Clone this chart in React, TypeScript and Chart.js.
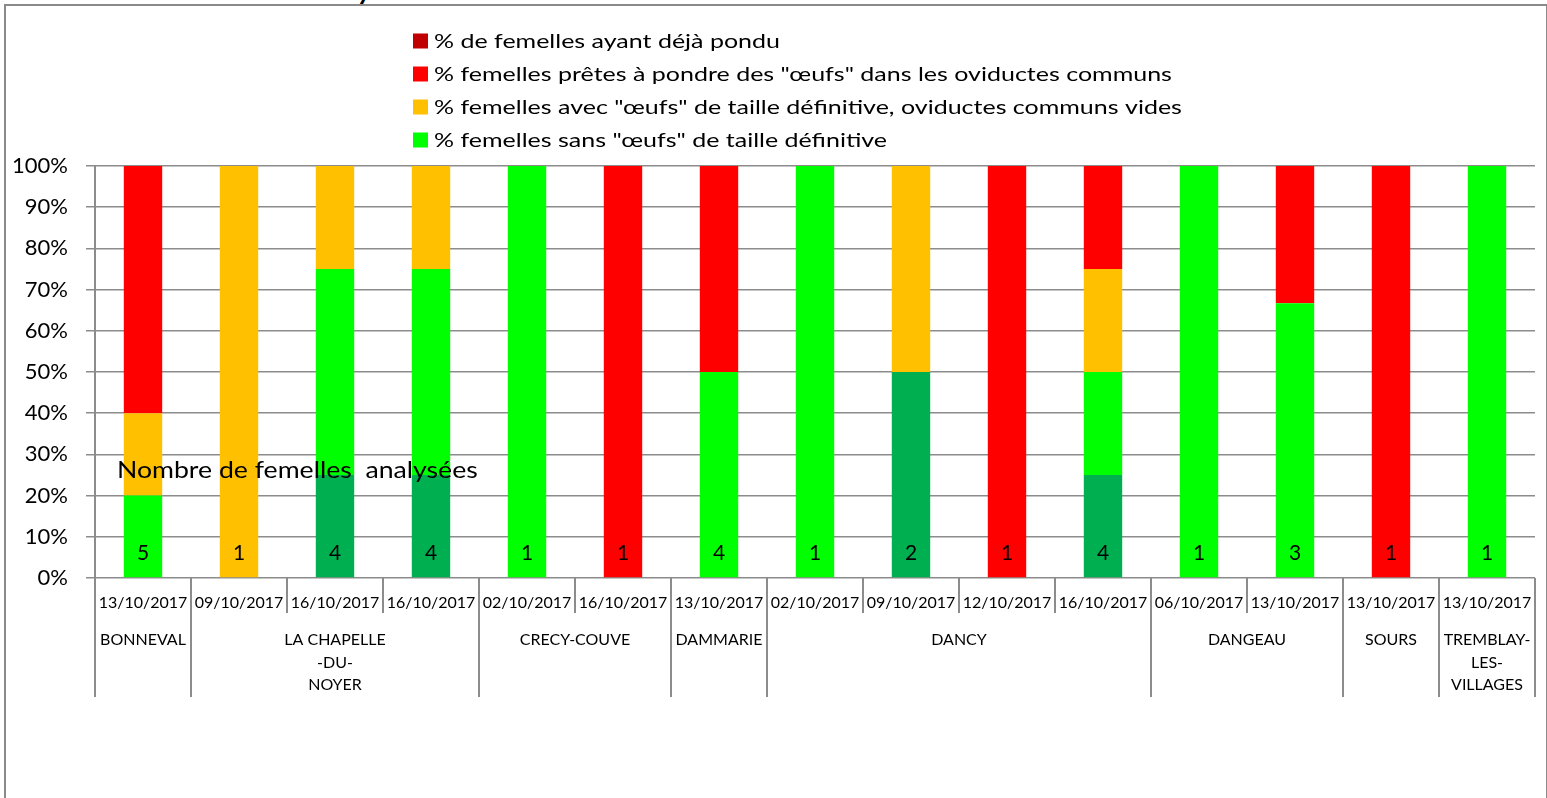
import { useEffect, useRef } from 'react';
import { Chart, registerables } from 'chart.js';
Chart.register(...registerables);

const FONT = "Lato, 'Open Sans', sans-serif";

const dates = [
  '13/10/2017', '09/10/2017', '16/10/2017', '16/10/2017', '02/10/2017', '16/10/2017', '13/10/2017',
  '02/10/2017', '09/10/2017', '12/10/2017', '16/10/2017', '06/10/2017', '13/10/2017', '13/10/2017', '13/10/2017',
];
const groupNames: string[][] = [
  ['BONNEVAL'], ['LA CHAPELLE', '-DU-', 'NOYER'], ['CRECY-COUVE'], ['DAMMARIE'],
  ['DANCY'], ['DANGEAU'], ['SOURS'], ['TREMBLAY-', 'LES-', 'VILLAGES'],
];
const groupSizes = [1, 3, 2, 1, 4, 2, 1, 1];

const darkGreen = [0, 0, 25, 25, 0, 0, 0, 0, 50, 0, 25, 0, 0, 0, 0];
const green = [20, 0, 50, 50, 100, 0, 50, 100, 0, 0, 25, 100, 66.7, 0, 100];
const orange = [20, 100, 25, 25, 0, 0, 0, 0, 50, 0, 25, 0, 0, 0, 0];
const red = [60, 0, 0, 0, 0, 100, 50, 0, 0, 100, 25, 0, 33.3, 100, 0];
const darkRed = [0, 0, 0, 0, 0, 0, 0, 0, 0, 0, 0, 0, 0, 0, 0];
const counts = [5, 1, 4, 4, 1, 1, 4, 1, 2, 1, 4, 1, 3, 1, 1];

const legendLabels = [
  '% de femelles ayant déjà pondu',
  '% femelles prêtes à pondre des "œufs" dans les oviductes communs',
  '% femelles avec "œufs" de taille définitive, oviductes communs vides',
  '% femelles sans "œufs" de taille définitive',
];
const annotationText = 'Nombre de femelles  analysées';

const GRID = '#8c8c8c';

function stretchedText(ctx: CanvasRenderingContext2D, text: string, x: number, y: number, sx: number) {
  ctx.save();
  ctx.translate(x, y);
  ctx.scale(sx, 1);
  ctx.fillText(text, 0, 0);
  ctx.restore();
}

const decorPlugin = {
  id: 'decor',
  afterDraw(chart: any) {
    const ctx = chart.ctx as CanvasRenderingContext2D;
    const xs = chart.scales.x;
    const ys = chart.scales.y;
    const area = chart.chartArea;
    const n = dates.length;
    const catW = (area.right - area.left) / n;
    const bottom = area.bottom;
    ctx.save();
    const groupBounds = new Set<number>();
    let acc = 0;
    groupBounds.add(0);
    groupSizes.forEach((s) => { acc += s; groupBounds.add(acc); });
    ctx.strokeStyle = GRID;
    ctx.lineWidth = 2;
    for (let i = 0; i <= n; i++) {
      const x = Math.round(xs.getPixelForValue(0) - catW / 2 + i * catW);
      const len = groupBounds.has(i) ? 119 : 35;
      ctx.beginPath();
      ctx.moveTo(x, bottom);
      ctx.lineTo(x, bottom + len);
      ctx.stroke();
    }
    ctx.fillStyle = '#000';
    ctx.font = `16px ${FONT}`;
    ctx.textAlign = 'center';
    ctx.textBaseline = 'middle';
    let start = 0;
    groupNames.forEach((lines, g) => {
      const end = start + groupSizes[g];
      const cx = (xs.getPixelForValue(start) + xs.getPixelForValue(end - 1)) / 2;
      lines.forEach((t, k) => ctx.fillText(t, cx, bottom + 62 + k * 22.5));
      start = end;
    });
    ctx.font = `21px ${FONT}`;
    counts.forEach((c, i) => {
      ctx.fillText(String(c), xs.getPixelForValue(i), ys.getPixelForValue(6));
    });
    ctx.font = `24px ${FONT}`;
    ctx.textAlign = 'left';
    stretchedText(ctx, annotationText, area.left + 22, ys.getPixelForValue(26.2), 1.11);
    const ds = chart.data.datasets;
    const legendDs = [ds[4], ds[3], ds[2], ds[1]];
    ctx.font = `20px ${FONT}`;
    legendDs.forEach((d: any, k: number) => {
      const cy = 41 + k * 33;
      ctx.fillStyle = d.backgroundColor;
      ctx.fillRect(413, cy - 7.5, 15, 15);
      ctx.fillStyle = '#000';
      stretchedText(ctx, d.label, 434, cy + 1, 1.25);
    });
    ctx.restore();
  },
};

export default function App() {
  const ref = useRef<HTMLCanvasElement>(null);
  useEffect(() => {
    const chart = new Chart(ref.current!, {
      type: 'bar',
      data: {
        labels: dates,
        datasets: [
          { label: '', data: darkGreen, backgroundColor: '#00B050' },
          { label: legendLabels[3], data: green, backgroundColor: '#00FF00' },
          { label: legendLabels[2], data: orange, backgroundColor: '#FFC000' },
          { label: legendLabels[1], data: red, backgroundColor: '#FF0000' },
          { label: legendLabels[0], data: darkRed, backgroundColor: '#C00000' },
        ],
      },
      options: {
        animation: false,
        responsive: false,
        layout: { padding: { top: 166, right: 12, left: 0, bottom: 0 } },
        datasets: { bar: { categoryPercentage: 1, barPercentage: 0.4, borderWidth: 0 } },
        plugins: { legend: { display: false }, tooltip: { enabled: false } },
        scales: {
          x: {
            stacked: true,
            grid: { display: false, drawTicks: false, tickLength: 0 },
            border: { display: false },
            ticks: { autoSkip: false, maxRotation: 0, minRotation: 0, padding: 15, color: '#000', font: { family: FONT, size: 16 } },
            afterFit: (s: any) => { s.height = 220; },
          },
          y: {
            stacked: true,
            min: 0,
            max: 100,
            grid: { color: GRID, lineWidth: 1.5, tickLength: 9 },
            border: { display: true, color: GRID, width: 2 },
            ticks: { stepSize: 10, padding: 18, color: '#000', font: { family: FONT, size: 22 }, callback: (v: any) => v + '%' },
            afterFit: (s: any) => { s.width = 95; },
          },
        },
      },
      plugins: [decorPlugin],
    });
    return () => chart.destroy();
  }, []);
  return (
    <div style={{ position: 'fixed', left: 0, top: 0, width: 1547, height: 798, background: '#fff', overflow: 'hidden' }}>
      <div style={{ position: 'absolute', left: 4, top: 4, width: 1540, height: 900, border: '2px solid #8a8a8a' }} />
      <div style={{ position: 'absolute', left: 358, top: 0, width: 16, height: 4, overflow: 'hidden' }}>
        <span style={{ position: 'absolute', left: 0, top: -25, color: '#000', fontFamily: FONT, fontSize: 28, fontWeight: 'bold', fontStyle: 'italic', lineHeight: '28px' }}>y</span>
      </div>
      <canvas ref={ref} width={1547} height={798} style={{ position: 'absolute', left: 0, top: 0 }} />
    </div>
  );
}
